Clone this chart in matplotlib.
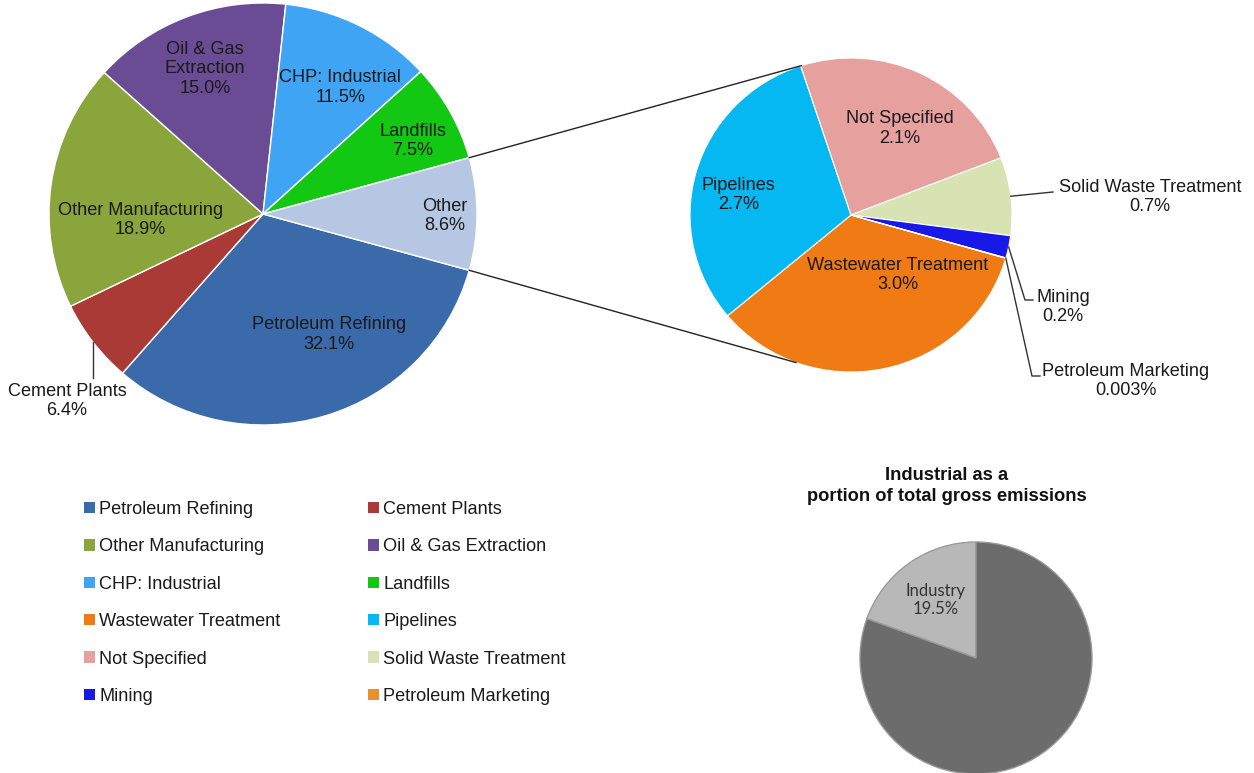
import numpy as np
import matplotlib.pyplot as plt
from matplotlib.patches import Patch

plt.rcParams["font.family"] = ["Liberation Sans", "DejaVu Sans"]

W, H = 1254, 773
TXT = "#1a1a1a"
FS = 13.1

# 主円グラフ（時計回り）
main_names = ["Petroleum Refining", "Cement Plants", "Other Manufacturing",
              "Oil & Gas Extraction", "CHP: Industrial", "Landfills", "Other"]
main_values = [32.1, 6.4, 18.9, 15.0, 11.5, 7.5, 8.6]
main_labels = ["Petroleum Refining\n32.1%", "Cement Plants\n6.4%",
               "Other Manufacturing\n18.9%", "Oil & Gas\nExtraction\n15.0%",
               "CHP: Industrial\n11.5%", "Landfills\n7.5%", "Other\n8.6%"]
main_colors = ["#3b6aab", "#a93a35", "#8aa53c", "#6a4c94",
               "#40a4f4", "#12c812", "#b5c7e3"]

# "Other" の内訳
other_names = ["Wastewater Treatment", "Pipelines", "Not Specified",
               "Solid Waste Treatment", "Mining", "Petroleum Marketing"]
other_values = [3.0, 2.7, 2.1, 0.7, 0.2, 0.003]
other_labels = ["Wastewater Treatment\n3.0%", "Pipelines\n2.7%",
                "Not Specified\n2.1%", "Solid Waste Treatment\n0.7%",
                "Mining\n0.2%", "Petroleum Marketing\n0.003%"]
other_colors = ["#f07a14", "#05b8f2", "#e6a19e", "#d7e3b3",
                "#1818e8", "#e8902c"]

# 総排出量に占める産業部門
share_values = [19.5, 80.5]
share_labels = ["Industry\n19.5%", ""]
share_colors = ["#b8b8b8", "#6c6c6c"]

fig = plt.figure(figsize=(W / 100, H / 100), dpi=100)


def pie_axes(cx, cy, rx, ry):
    """ピクセル座標で円グラフ用のaxesを配置"""
    return fig.add_axes([(cx - rx) / W, 1 - (cy + ry) / H, 2 * rx / W, 2 * ry / H])


def finish(ax):
    ax.set_xlim(-1, 1)
    ax.set_ylim(-1, 1)
    ax.set_aspect("auto")
    ax.axis("off")


def polar(r, ang):
    a = np.deg2rad(ang)
    return r * np.cos(a), r * np.sin(a)


def mid(w):
    return (w.theta1 + w.theta2) / 2


# --- 主円グラフ
ax1 = pie_axes(263, 214, 214, 211)
start1 = -main_values[-1] / sum(main_values) * 180
wedges1, _ = ax1.pie(main_values, colors=main_colors, startangle=start1,
                     counterclock=False,
                     wedgeprops=dict(edgecolor="white", linewidth=1))
finish(ax1)

main_lbl_pos = [(0.65, -61.6), None, (0.575, 182.8), (0.74, 111.4),
                (0.70, 58.9), (0.78, 26.4), (0.85, -0.6)]
for lbl, pos in zip(main_labels, main_lbl_pos):
    if pos is None:
        continue
    x, y = polar(*pos)
    ax1.text(x, y, lbl, ha="center", va="center", fontsize=FS, color=TXT)

# --- 内訳の円グラフ
ax2 = pie_axes(851, 215, 161, 157)
wedges2, _ = ax2.pie(other_values, colors=other_colors, startangle=-16,
                     counterclock=False,
                     wedgeprops=dict(edgecolor="white", linewidth=0.8))
finish(ax2)

other_lbl_pos = [(0.48, -52.6), (0.71, 169.7), (0.63, 61.2)]
for lbl, pos in zip(other_labels[:3], other_lbl_pos):
    x, y = polar(*pos)
    ax2.text(x, y, lbl, ha="center", va="center", fontsize=FS, color=TXT)

# --- 産業部門の割合
ax3 = pie_axes(976, 658, 116, 116)
wedges3, _ = ax3.pie(share_values, colors=share_colors, startangle=90,
                     wedgeprops=dict(edgecolor="#9a9a9a", linewidth=1))
finish(ax3)
x, y = polar(0.61, mid(wedges3[0]))
ax3.text(x, y, share_labels[0], ha="center", va="center", fontsize=12,
         family=["Lato", "DejaVu Sans"], color="#333333", linespacing=1.15)

# --- 重ね描き用（ピクセル座標）
ov = fig.add_axes([0, 0, 1, 1])
ov.set_xlim(0, W)
ov.set_ylim(H, 0)
ov.axis("off")
ov.patch.set_alpha(0)


def to_px(ax, ang, r=1.0):
    p = ax.transData.transform(polar(r, ang))
    return ov.transData.inverted().transform(p)


# 主円グラフから内訳への連結線
other_w = wedges1[-1]
for a_main, a_sub in [(other_w.theta2, 108), (other_w.theta1, 250)]:
    p0 = to_px(ax1, a_main)
    p1 = to_px(ax2, a_sub)
    ov.plot([p0[0], p1[0]], [p0[1], p1[1]], color="#222222", lw=1)

# Cement Plants（外側ラベル）
p = to_px(ax1, mid(wedges1[1]))
ov.plot([p[0], p[0]], [p[1], 378], color="#333333", lw=1)
ov.text(67, 401, main_labels[1], ha="center", va="center", fontsize=FS, color=TXT)

# 小さいスライスの外側ラベル
p = to_px(ax2, mid(wedges2[3]))
ov.plot([p[0], 1053], [p[1], 192], color="#333333", lw=1)
ov.text(1150, 197, other_labels[3], ha="center", va="center", fontsize=FS, color=TXT)

p = to_px(ax2, mid(wedges2[4]))
ov.plot([p[0], 1025, 1033], [p[1], 300, 300], color="#333333", lw=1)
ov.text(1063, 307, other_labels[4], ha="center", va="center", fontsize=FS, color=TXT)

p = to_px(ax2, mid(wedges2[5]))
ov.plot([p[0], 1032, 1040], [p[1], 376, 376], color="#333333", lw=1)
ov.text(1126, 381, other_labels[5], ha="center", va="center", fontsize=FS, color=TXT)

ov.text(947, 486, "Industrial as a\nportion of total gross emissions",
        ha="center", va="center", fontsize=13.2, fontweight="bold",
        color="#111111", linespacing=1.25)

# 凡例（行方向に並べる）
leg_names = main_names[:-1] + other_names
leg_colors = main_colors[:-1] + other_colors
handles = [Patch(facecolor=c, edgecolor="none") for c in leg_colors]
order = list(range(0, 12, 2)) + list(range(1, 12, 2))
fig.legend([handles[i] for i in order], [leg_names[i] for i in order],
           loc="upper left", bbox_to_anchor=(84 / W, 1 - 501 / H), ncol=2,
           frameon=False, fontsize=FS, borderpad=0, borderaxespad=0,
           handlelength=0.6, handleheight=0.6, handletextpad=0.25,
           labelspacing=1.12, columnspacing=4.78, labelcolor=TXT)

fig.savefig("out.png", dpi=100)
